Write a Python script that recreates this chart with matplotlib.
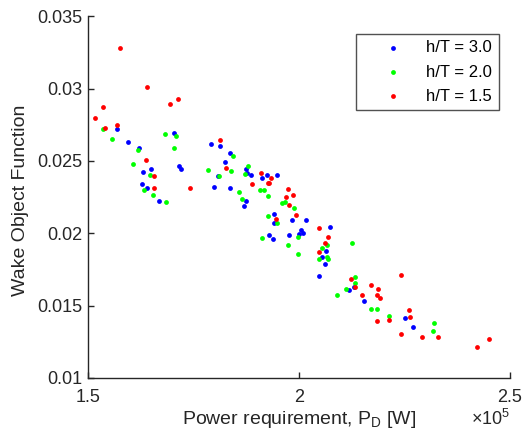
import numpy as np
import matplotlib
matplotlib.use('Agg')
import matplotlib.pyplot as plt
from matplotlib.ticker import FuncFormatter

plt.rcParams['font.family'] = ['Liberation Sans', 'DejaVu Sans']
plt.rcParams['mathtext.fontset'] = 'custom'
plt.rcParams['mathtext.rm'] = 'Liberation Sans'
plt.rcParams['mathtext.it'] = 'Liberation Sans:italic'

# h/T = 3.0
x_30 = [156800, 159600, 162000, 170300, 164900, 163100, 171600, 172000, 162900, 164100,
        166800, 179200, 181200, 183700, 182400, 179800, 183600, 187400, 187600, 188700,
        192400, 194700, 191200, 187400, 187000, 194200, 198400, 201700, 194100, 207300,
        200500, 201000, 200000, 197600, 193000, 193800, 206400, 205500, 206200, 204700,
        213100, 211800, 215400, 225200, 227000, 180800]
y_30 = [0.02718, 0.02628, 0.02587, 0.02697, 0.02448, 0.02426, 0.02467, 0.02444, 0.02342, 0.02313,
        0.02225, 0.02619, 0.02601, 0.02557, 0.02490, 0.02317, 0.02315, 0.02448, 0.02417, 0.02403,
        0.02405, 0.02405, 0.02384, 0.02225, 0.02192, 0.02133, 0.02091, 0.02089, 0.02073, 0.02043,
        0.02024, 0.02005, 0.01996, 0.01985, 0.01990, 0.01960, 0.01879, 0.01837, 0.01787, 0.01706,
        0.01625, 0.01607, 0.01535, 0.01413, 0.01351, 0.02398]

# h/T = 2.0
x_20 = [153600, 155700, 161800, 168200, 170800, 170300, 160600, 164700, 163200, 165500,
        168600, 184400, 178400, 181000, 184000, 185900, 187900, 187200, 190800, 191800,
        192600, 186500, 196100, 196800, 198800, 192700, 194900, 199800, 191300, 212600,
        206600, 197500, 205500, 199800, 206600, 207000, 204800, 213300, 213300, 211100,
        209000, 217100, 218500, 221400, 232000, 231900]
y_20 = [0.02721, 0.02654, 0.02576, 0.02686, 0.02670, 0.02590, 0.02479, 0.02405, 0.02299, 0.02264,
        0.02218, 0.02538, 0.02437, 0.02398, 0.02430, 0.02287, 0.02462, 0.02412, 0.02301, 0.02296,
        0.02257, 0.02239, 0.02211, 0.02213, 0.02176, 0.02119, 0.02068, 0.01974, 0.01969, 0.01934,
        0.01918, 0.01920, 0.01895, 0.01856, 0.01837, 0.01819, 0.01823, 0.01701, 0.01659, 0.01616,
        0.01574, 0.01473, 0.01475, 0.01431, 0.01381, 0.01323]

# h/T = 1.5
x_15 = [157700, 164100, 153500, 151600, 169400, 171400, 154100, 156900, 163700, 165600,
        165700, 174200, 181400, 182700, 190900, 193300, 193000, 192700, 188800, 197300,
        196900, 198700, 197600, 199200, 194500, 204800, 206900, 206200, 204800, 212400,
        213400, 217000, 218700, 214900, 218500, 219200, 224100, 226200, 221300, 226300,
        218600, 224200, 229200, 232900, 245100, 242100]
y_15 = [0.03282, 0.03009, 0.02875, 0.02799, 0.02896, 0.02926, 0.02728, 0.02751, 0.02506, 0.02396,
        0.02310, 0.02310, 0.02647, 0.02451, 0.02419, 0.02379, 0.02351, 0.02345, 0.02338, 0.02303,
        0.02250, 0.02262, 0.02195, 0.02128, 0.02102, 0.02036, 0.01971, 0.01934, 0.01872, 0.01685,
        0.01628, 0.01639, 0.01614, 0.01576, 0.01572, 0.01554, 0.01711, 0.01468, 0.01401, 0.01420,
        0.01394, 0.01304, 0.01284, 0.01282, 0.01268, 0.01212]

labels = ['h/T = 3.0', 'h/T = 2.0', 'h/T = 1.5']
colors = ['#0000ff', '#00ff00', '#ff0000']
x_ticks = [150000, 200000, 250000]
y_ticks = [0.01, 0.015, 0.02, 0.025, 0.03, 0.035]

axc = '#262626'
fig = plt.figure(figsize=(5.3, 4.44), dpi=100)
ax = fig.add_axes([0.166, 0.149, 0.796, 0.814])

for xs, ys, c, lab in zip([x_30, x_20, x_15], [y_30, y_20, y_15], colors, labels):
    ax.scatter(xs, ys, s=12, color=c, label=lab, linewidths=0)

ax.set_xlim(150000, 250000)
ax.set_ylim(0.01, 0.035)
ax.set_xticks(x_ticks)
ax.set_yticks(y_ticks)
ax.xaxis.set_major_formatter(FuncFormatter(lambda v, p: '%g' % (v / 1e5)))
ax.yaxis.set_major_formatter(FuncFormatter(lambda v, p: '%g' % v))

for s in ['top', 'right']:
    ax.spines[s].set_visible(False)
for s in ['left', 'bottom']:
    ax.spines[s].set_color(axc)
    ax.spines[s].set_linewidth(1.0)
ax.tick_params(direction='in', length=4, width=1, colors=axc, labelsize=13,
               labelcolor=axc)
ax.tick_params(axis='x', pad=8)
ax.tick_params(axis='y', pad=4)

ax.set_xlabel('Power requirement, P$_\\mathrm{D}$ [W]', fontsize=14, color=axc, labelpad=2)
ax.set_ylabel('Wake Object Function', fontsize=14, color=axc)
ax.yaxis.set_label_coords(-0.14, 0.49)
ax.text(1.0, -0.13, '$\\times10^5$', transform=ax.transAxes, fontsize=13,
        color=axc, ha='right', va='baseline')

leg = ax.legend(loc='upper right', bbox_to_anchor=(0.974, 0.952), fontsize=12,
                frameon=True, fancybox=False, edgecolor=axc, markerscale=1.0,
                handletextpad=0.1, borderpad=0.4, labelspacing=0.55, borderaxespad=0,
                handlelength=3.75)
leg.get_frame().set_linewidth(1.0)
for t in leg.get_texts():
    t.set_color('black')

fig.savefig('out.png', dpi=100)
